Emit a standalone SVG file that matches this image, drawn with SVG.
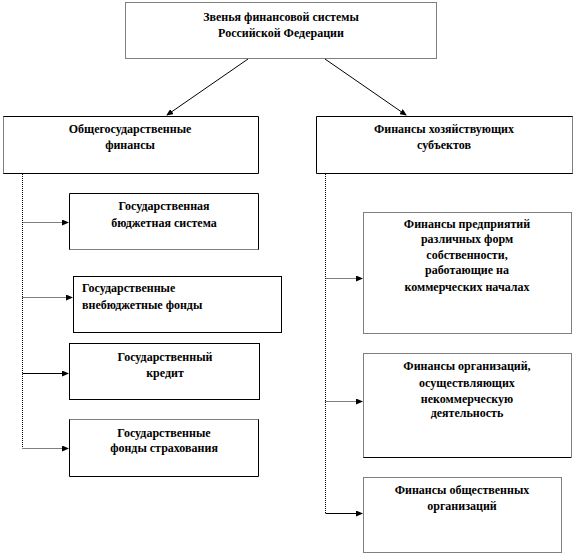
<svg xmlns="http://www.w3.org/2000/svg" width="575" height="555" viewBox="0 0 575 555">
<style>
.box{fill:#fff;stroke:none}
.s{stroke:#000;stroke-width:1;fill:none}
.d{stroke:#000;stroke-width:1;stroke-dasharray:1,1;fill:none}
text{font-family:"Liberation Serif","Times New Roman",serif;font-weight:bold;font-size:12px;fill:#000}
.c{text-anchor:middle}
</style>
<defs>
<marker id="ah" markerWidth="7" markerHeight="6" refX="6" refY="3" orient="auto" markerUnits="userSpaceOnUse">
<path d="M0,0 L7,3 L0,6 Z" fill="#000"/>
</marker>
</defs>
<rect width="575" height="555" fill="#fff"/>
<g id="connectors">
<line class="s" x1="248" y1="59" x2="167" y2="115" marker-end="url(#ah)"/>
<line class="s" x1="325" y1="59" x2="406" y2="115" marker-end="url(#ah)"/>
<line class="d" x1="22.5" y1="174" x2="22.5" y2="448"/>
<line class="d" x1="22.5" y1="222.5" x2="68" y2="222.5" marker-end="url(#ah)"/>
<line class="d" x1="22.5" y1="297.5" x2="72" y2="297.5" marker-end="url(#ah)"/>
<line class="s" x1="22.5" y1="373.5" x2="68" y2="373.5" marker-end="url(#ah)"/>
<line class="d" x1="22.5" y1="448.5" x2="68" y2="448.5" marker-end="url(#ah)"/>
<line class="d" x1="325.5" y1="174" x2="325.5" y2="513"/>
<line class="d" x1="325.5" y1="278.5" x2="362" y2="278.5" marker-end="url(#ah)"/>
<line class="d" x1="325.5" y1="401.5" x2="362" y2="401.5" marker-end="url(#ah)"/>
<line class="s" x1="325.5" y1="513.5" x2="362" y2="513.5" marker-end="url(#ah)"/>
</g>
<g id="root">
<rect class="d" x="125.5" y="2.5" width="311" height="56"/>
<text class="c" x="281" y="21">Звенья финансовой системы</text>
<text class="c" x="281" y="37">Российской Федерации</text>
</g>
<g id="general">
<path class="s" d="M3.5,116.5 H258.5 V173.5 H3.5"/>
<line class="d" x1="3.5" y1="116.5" x2="3.5" y2="173.5"/>
<text class="c" x="130" y="133">Общегосударственные</text>
<text class="c" x="130" y="149">финансы</text>
</g>
<g id="business">
<path class="s" d="M572.5,116.5 H316.5 V173.5 H572.5"/>
<line class="d" x1="572.5" y1="116.5" x2="572.5" y2="173.5"/>
<text class="c" x="444" y="133">Финансы хозяйствующих</text>
<text class="c" x="444" y="149">субъектов</text>
</g>
<g id="budget">
<path class="s" d="M69.5,249.5 V193.5 H258.5 V249.5"/>
<line class="d" x1="69.5" y1="249.5" x2="258.5" y2="249.5"/>
<text class="c" x="164" y="210">Государственная</text>
<text class="c" x="164" y="227">бюджетная  система</text>
</g>
<g id="offbudget">
<rect class="s" x="73.5" y="276.5" width="208" height="56"/>
<text x="82" y="292">Государственные</text>
<text x="82" y="309">внебюджетные  фонды</text>
</g>
<g id="credit">
<rect class="s" x="69.5" y="343.5" width="190" height="56"/>
<text class="c" x="165" y="361">Государственный</text>
<text class="c" x="165" y="377">кредит</text>
</g>
<g id="insurance">
<path class="s" d="M69.5,419.5 V476.5 H258.5 V419.5"/>
<line class="d" x1="69.5" y1="419.5" x2="258.5" y2="419.5"/>
<text class="c" x="164" y="437">Государственные</text>
<text class="c" x="164" y="452">фонды страхования</text>
</g>
<g id="enterprises">
<rect class="d" x="363.5" y="212.5" width="208" height="121"/>
<text class="c" x="467" y="228">Финансы предприятий</text>
<text class="c" x="467" y="243">различных форм</text>
<text class="c" x="467" y="259">собственности,</text>
<text class="c" x="467" y="274">работающие на</text>
<text class="c" x="467" y="291">коммерческих началах</text>
</g>
<g id="nonprofit">
<path class="d" d="M363.5,457.5 V353.5 H571.5 V457.5"/>
<line class="s" x1="363.5" y1="457.5" x2="571.5" y2="457.5"/>
<text class="c" x="467" y="370">Финансы организаций,</text>
<text class="c" x="467" y="387">осуществляющих</text>
<text class="c" x="467" y="403">некоммерческую</text>
<text class="c" x="467" y="417">деятельность</text>
</g>
<g id="public">
<rect class="d" x="363.5" y="477.5" width="198" height="75"/>
<text class="c" x="462" y="494">Финансы общественных</text>
<text class="c" x="462" y="510">организаций</text>
</g>
</svg>
